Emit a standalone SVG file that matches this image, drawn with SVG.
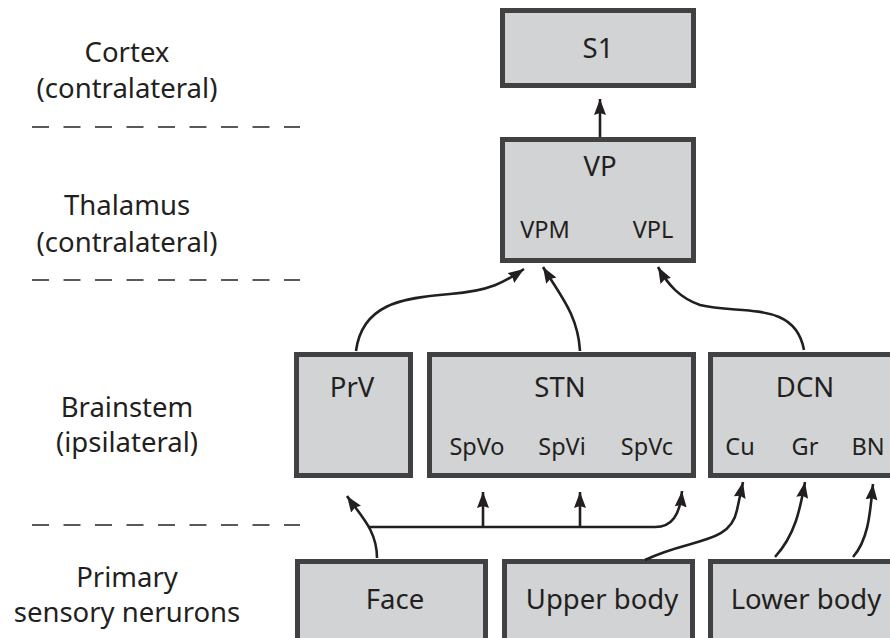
<svg xmlns="http://www.w3.org/2000/svg" width="890" height="638" viewBox="0 0 890 638">
<defs>
<style>
.box{fill:#d1d3d4;stroke:#414042;stroke-width:5}
.t{font-family:"Noto Sans","Open Sans",sans-serif;font-size:27.5px;fill:#231f20;text-anchor:middle}
.s{font-family:"Noto Sans","Open Sans",sans-serif;font-size:23.5px;fill:#231f20;text-anchor:middle}
.dash{stroke:#58595b;stroke-width:2;stroke-dasharray:17 14.5;fill:none}
.c{fill:none;stroke:#231f20;stroke-width:2.6}
</style>
<marker id="ah" markerUnits="userSpaceOnUse" markerWidth="18" markerHeight="14" refX="16" refY="6" orient="auto">
<path d="M0,0 L16,6 L0,12 L2,6z" fill="#231f20"/>
</marker>
</defs>
<rect width="890" height="638" fill="#fff"/>
<g id="layers">
<text class="t" x="127" y="62">Cortex</text>
<text class="t" x="127" y="98">(contralateral)</text>
<text class="t" x="127" y="215">Thalamus</text>
<text class="t" x="127" y="252">(contralateral)</text>
<text class="t" x="127" y="417">Brainstem</text>
<text class="t" x="127" y="452">(ipsilateral)</text>
<text class="t" x="127" y="587">Primary</text>
<text class="t" x="127" y="622">sensory nerurons</text>
<line class="dash" x1="32" y1="127" x2="300" y2="127"/>
<line class="dash" x1="32" y1="280" x2="300" y2="280"/>
<line class="dash" x1="32" y1="525" x2="300" y2="525"/>
</g>
<g id="S1"><rect class="box" x="502.5" y="10.5" width="191" height="75"/><text class="t" x="598" y="58">S1</text></g>
<g id="VP"><rect class="box" x="502.5" y="139.5" width="191" height="121"/><text class="t" x="600" y="176">VP</text><text class="s" x="545" y="238">VPM</text><text class="s" x="653" y="238">VPL</text></g>
<g id="PrV"><rect class="box" x="296.5" y="354.5" width="114" height="121"/><text class="t" x="352" y="397">PrV</text></g>
<g id="STN"><rect class="box" x="429.5" y="354.5" width="264" height="121"/><text class="t" x="560" y="397">STN</text><text class="s" x="477" y="455">SpVo</text><text class="s" x="562" y="455">SpVi</text><text class="s" x="647" y="455">SpVc</text></g>
<g id="DCN"><rect class="box" x="710.5" y="354.5" width="200" height="121"/><text class="t" x="805" y="397">DCN</text><text class="s" x="740" y="455">Cu</text><text class="s" x="805" y="455">Gr</text><text class="s" x="868" y="455">BN</text></g>
<g id="Face"><rect class="box" x="297.5" y="561.5" width="188" height="90"/><text class="t" x="395" y="609">Face</text></g>
<g id="UpperBody"><rect class="box" x="504.5" y="561.5" width="188" height="90"/><text class="t" x="602" y="609">Upper body</text></g>
<g id="LowerBody"><rect class="box" x="710.5" y="561.5" width="200" height="90"/><text class="t" x="806" y="609">Lower body</text></g>
<g id="connectors">
<path class="c" marker-end="url(#ah)" d="M600,137 L600,99"/>
<path class="c" marker-end="url(#ah)" d="M356,351 C362,305 400,298 450,294 C490,291 505,282 524,269"/>
<path class="c" marker-end="url(#ah)" d="M580,351 C578,315 560,295 543,267"/>
<path class="c" marker-end="url(#ah)" d="M804,350 C795,300 740,315 700,305 C680,298 668,285 658,267"/>
<path class="c" marker-end="url(#ah)" d="M377,558 C377,530 360,515 347,496"/>
<path class="c" marker-end="url(#ah)" d="M369,527 L655,527 C672,527 680,515 682,491"/>
<path class="c" marker-end="url(#ah)" d="M483,527 L483,492"/>
<path class="c" marker-end="url(#ah)" d="M580,527 L580,492"/>
<path class="c" marker-end="url(#ah)" d="M645,560 C690,538 730,545 737,510 L743,482"/>
<path class="c" marker-end="url(#ah)" d="M775,557 C795,535 800,510 805,482"/>
<path class="c" marker-end="url(#ah)" d="M853,557 C868,540 870,515 873,484"/>
</g>
</svg>
